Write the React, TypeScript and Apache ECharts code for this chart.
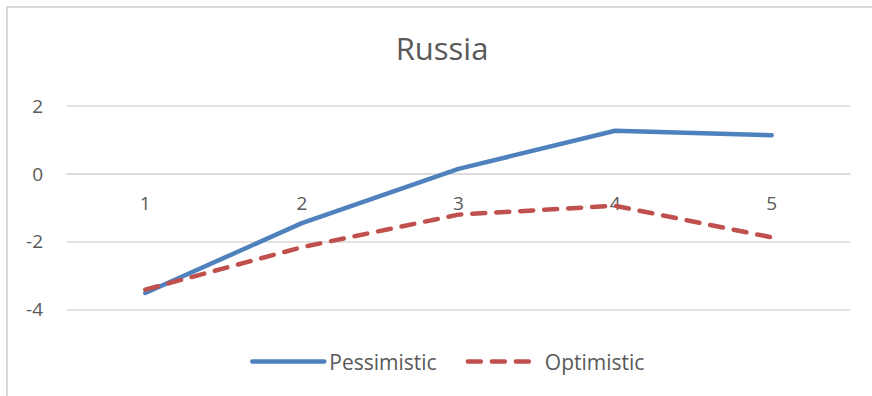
import React, { useEffect, useRef } from "react";
import * as echarts from "echarts";

// Scenario paths for Russia
const categories = ["1", "2", "3", "4", "5"];
const pessimistic = [-3.52, -1.46, 0.14, 1.26, 1.13];
const optimistic = [-3.42, -2.17, -1.21, -0.95, -1.88];
const yMin = -4;
const yMax = 2;
const yStep = 2;

const FONT = "'Open Sans', 'Noto Sans', sans-serif";
const TEXT = "#595959";
const GRID = "#d9d9d9";

const GRID_TOP = 105.7;
const GRID_BOTTOM_Y = 309.3;
// pixel distance from the bottom of the plot up to the zero line
const ZERO_SHIFT = ((GRID_BOTTOM_Y - GRID_TOP) * (0 - yMin)) / (yMax - yMin);

export default function App() {
  const ref = useRef<HTMLDivElement>(null);

  useEffect(() => {
    if (!ref.current) return;
    const chart = echarts.init(ref.current, undefined, { renderer: "svg" });
    chart.setOption({
      animation: false,
      backgroundColor: "#ffffff",
      textStyle: { fontFamily: FONT, color: TEXT },
      title: {
        text: "Russia",
        left: 437,
        top: 27,
        textAlign: "center",
        textStyle: { fontFamily: FONT, fontSize: 31, fontWeight: "normal", color: TEXT },
      },
      graphic: [
        {
          type: "polyline",
          shape: { points: [[7, 400], [7, 7], [880, 7]] },
          style: { stroke: GRID, lineWidth: 2, fill: "none" },
          silent: true,
        },
      ],
      legend: {
        left: 245,
        top: 346,
        itemWidth: 72,
        itemHeight: 14,
        itemGap: 29,
        textStyle: { fontFamily: FONT, fontSize: 21, color: TEXT },
        itemStyle: { opacity: 0 },
        lineStyle: { width: 4.5, cap: "round" },
        data: ["Pessimistic", "Optimistic"],
      },
      grid: { left: 67, right: 22, top: GRID_TOP, bottom: 396 - GRID_BOTTOM_Y, containLabel: false },
      xAxis: {
        type: "category",
        data: categories,
        boundaryGap: true,
        position: "bottom",
        offset: -ZERO_SHIFT,
        axisLine: { show: true, onZero: false, lineStyle: { color: GRID, width: 1.5 } },
        axisTick: { show: false },
        axisLabel: { fontFamily: FONT, fontSize: 19, color: TEXT, margin: 20 },
        splitLine: { show: false },
      },
      yAxis: {
        type: "value",
        min: yMin,
        max: yMax,
        interval: yStep,
        axisLine: { show: false },
        axisTick: { show: false },
        axisLabel: { fontFamily: FONT, fontSize: 19, color: TEXT, margin: 24 },
        splitLine: { lineStyle: { color: GRID, width: 1.5 } },
      },
      series: [
        {
          name: "Pessimistic",
          type: "line",
          data: pessimistic,
          symbol: "none",
          lineStyle: { color: "#4f81bd", width: 4.5, cap: "round", join: "round" },
          itemStyle: { color: "#4f81bd" },
        },
        {
          name: "Optimistic",
          type: "line",
          data: optimistic,
          symbol: "none",
          lineStyle: { color: "#c0504d", width: 4.5, type: [13, 11], cap: "round", join: "round" },
          itemStyle: { color: "#c0504d" },
        },
      ],
    });
    return () => chart.dispose();
  }, []);

  return (
    <div
      ref={ref}
      style={{ position: "fixed", left: 0, top: 0, width: 872, height: 396, background: "#fff" }}
    />
  );
}
